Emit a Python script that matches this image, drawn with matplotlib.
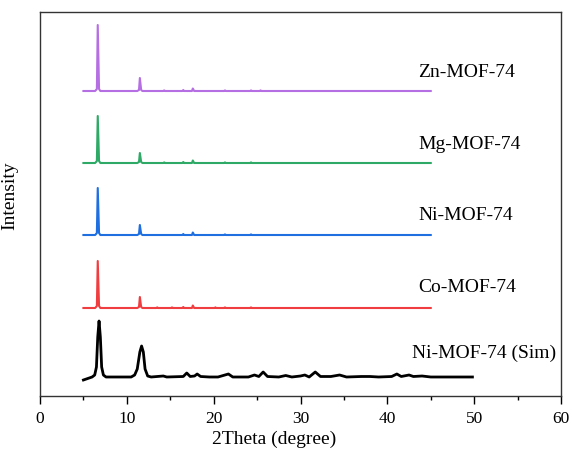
import matplotlib
matplotlib.use("Agg")
import matplotlib.pyplot as plt
from matplotlib.ticker import MultipleLocator

plt.rcParams['font.family'] = ['Liberation Serif', 'DejaVu Serif']

# ---- data ----
labels = ["Zn-MOF-74", "Mg-MOF-74", "Ni-MOF-74", "Co-MOF-74", "Ni-MOF-74 (Sim)"]
colors = ["#b56fe3", "#2eaa66", "#1f6fe0", "#f03d40", "#000000"]

zn_x = [5, 6.35, 6.55, 6.65, 6.8, 6.95, 11.2, 11.4, 11.5, 11.65, 11.8, 14.2, 14.3, 14.4,
        16.4, 16.5, 16.6, 17.5, 17.6, 17.75, 21.2, 21.3, 21.4, 24.2, 24.3, 24.4, 25.3, 25.4, 25.5, 45]
zn_y = [0, 0, 2, 66, 2, 0, 0, 1, 13, 1, 0, 0, 0.6, 0,
        0, 1, 0, 0, 2.5, 0, 0, 0.6, 0, 0, 0.6, 0, 0, 0.6, 0, 0]

mg_x = [5, 6.35, 6.55, 6.65, 6.8, 6.95, 11.2, 11.4, 11.5, 11.65, 11.8, 14.2, 14.3, 14.4,
        16.4, 16.5, 16.6, 17.5, 17.6, 17.75, 21.2, 21.3, 21.4, 24.2, 24.3, 24.4, 45]
mg_y = [0, 0, 2, 47, 2, 0, 0, 1, 10, 1, 0, 0, 0.6, 0,
        0, 1, 0, 0, 2.5, 0, 0, 0.6, 0, 0, 0.6, 0, 0]

ni_x = [5, 6.35, 6.55, 6.65, 6.8, 6.95, 11.2, 11.4, 11.5, 11.65, 11.8,
        16.4, 16.5, 16.6, 17.5, 17.6, 17.75, 21.2, 21.3, 21.4, 24.2, 24.3, 24.4, 45]
ni_y = [0, 0, 2, 47, 2, 0, 0, 1, 10, 1, 0,
        0, 1, 0, 0, 2.5, 0, 0, 0.6, 0, 0, 0.6, 0, 0]

co_x = [5, 6.35, 6.55, 6.65, 6.8, 6.95, 11.2, 11.4, 11.5, 11.65, 11.8, 13.4, 13.5, 13.6,
        15.1, 15.2, 15.3, 16.4, 16.5, 16.6, 17.5, 17.6, 17.75, 20.1, 20.2, 20.3,
        21.2, 21.3, 21.4, 24.2, 24.3, 24.4, 45]
co_y = [0, 0, 2, 47, 2, 0, 0, 1, 11, 1, 0, 0, 0.6, 0,
        0, 0.6, 0, 0, 1, 0, 0, 2.5, 0, 0, 0.6, 0,
        0, 0.6, 0, 0, 0.6, 0, 0]

sim_x = [5, 5.5, 6.0, 6.3, 6.5, 6.65, 6.8, 6.95, 7.1, 7.3, 7.6, 10.5, 10.9, 11.2, 11.5, 11.7,
         11.9, 12.1, 12.4, 12.8, 14.2, 14.6, 16.5, 16.9, 17.3, 17.8, 18.1, 18.5, 19.5, 20.5,
         21.7, 22.2, 24.0, 24.7, 25.2, 25.7, 26.2, 27.5, 28.3, 29.0, 30.0, 30.5, 31.0, 31.7,
         32.3, 33.5, 34.5, 35.3, 37.0, 38.0, 39.0, 40.5, 41.1, 41.6, 42.5, 43.0, 44.0, 45.0, 49.8]
sim_y = [-3, -1.5, 0, 2, 10, 40, 56, 40, 10, 2, 0, 0, 2, 8, 25, 31,
         25, 8, 1, 0, 1, 0, 0.5, 4, 0.5, 1, 3, 0.5, 0, 0,
         3, 0, 0, 2, 0.5, 5, 0.5, 0, 1.5, 0, 1, 2, 0, 5,
         0.5, 0.5, 2, 0, 0.5, 0.5, 0, 0.5, 3, 0.5, 2, 0.5, 1, 0, 0]

xs = [zn_x, mg_x, ni_x, co_x, sim_x]
ys = [zn_y, mg_y, ni_y, co_y, sim_y]

# ---- layout / style ----
offsets = [305, 233, 161, 88, 19]
widths = [1.5, 1.5, 1.5, 1.5, 2.0]
label_pos = [(43.55, 319), (43.55, 247), (43.55, 176), (43.55, 104), (42.86, 38)]

fig = plt.figure(figsize=(5.72, 4.54), dpi=100)
ax = fig.add_axes([40 / 572, 1 - 396 / 454, 521 / 572, 384 / 454])

for x, y, off, c, lw in zip(xs, ys, offsets, colors, widths):
    ax.plot(x, [v + off for v in y], color=c, lw=lw, solid_joinstyle='round')

for lab, (tx, ty) in zip(labels, label_pos):
    ax.text(tx, ty, lab, fontsize=14, ha='left', va='baseline', color='black')

ax.set_xlim(0, 60)
ax.set_ylim(0, 384)
ax.xaxis.set_major_locator(MultipleLocator(10))
ax.xaxis.set_minor_locator(MultipleLocator(5))
ax.set_yticks([])
ax.tick_params(axis='x', which='major', direction='out', length=5.5, width=1, labelsize=12.5, pad=5)
ax.tick_params(axis='x', which='minor', direction='out', length=3, width=1)
for s in ax.spines.values():
    s.set_linewidth(1.0)
    s.set_color('#333333')

ax.set_xlabel("2Theta (degree)", fontsize=14)
ax.xaxis.set_label_coords((274 - 40) / 521, -35 / 384)
ax.set_ylabel("Intensity", fontsize=14)
ax.yaxis.set_label_coords(-22 / 521, (396 - 196) / 384)

fig.savefig("out.png", dpi=100)
